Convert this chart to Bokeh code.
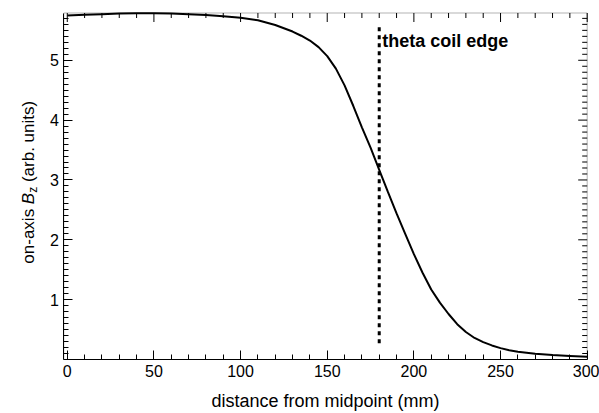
import math
from bokeh.plotting import figure
from bokeh.models import Range1d, FixedTicker, LinearAxis, Label, BoxAnnotation
from bokeh.core.properties import value
from bokeh.embed import file_html
from bokeh.resources import INLINE

# ---- data ----
distance_mm = [0, 10, 20, 30, 40, 50, 60, 70, 80, 90, 100, 110, 120, 130, 135,
               140, 145, 150, 155, 160, 165, 170, 175, 180, 185, 190, 195, 200,
               205, 210, 215, 220, 225, 230, 235, 240, 245, 250, 255, 260, 270,
               280, 290, 300]
bz = [5.75, 5.76, 5.77, 5.78, 5.785, 5.785, 5.78, 5.77, 5.755, 5.735, 5.71,
      5.67, 5.59, 5.48, 5.41, 5.33, 5.22, 5.07, 4.86, 4.58, 4.24, 3.88, 3.54,
      3.17, 2.80, 2.44, 2.10, 1.76, 1.45, 1.17, 0.95, 0.76, 0.59, 0.46, 0.36,
      0.29, 0.235, 0.19, 0.155, 0.13, 0.095, 0.075, 0.06, 0.045]
coil_edge_mm = 180.0
coil_edge_span = [0.27, 5.55]
coil_label = "theta coil edge"
x_title = "distance from midpoint (mm)"
x_major = [0, 50, 100, 150, 200, 250, 300]
y_major = [1, 2, 3, 4, 5]
x_lim = (-2, 300)
y_lim = (0, 5.79)

FONT = "Liberation Sans"

# ---- layout (pixels of the page) ----
W, H = 599, 413
BOX_L, BOX_R, BOX_T, BOX_B = 63.3, 586.7, 12.5, 359.0
sx = (BOX_R - BOX_L) / (x_lim[1] - x_lim[0])
sy = (BOX_B - BOX_T) / (y_lim[1] - y_lim[0])
xr = Range1d(x_lim[0] - BOX_L / sx, x_lim[1] + (W - BOX_R) / sx)
yr = Range1d(y_lim[0] - (H - BOX_B) / sy, y_lim[1] + BOX_T / sy)

p = figure(width=W, height=H, output_backend="svg", toolbar_location=None,
           x_range=xr, y_range=yr, x_axis_type=None, y_axis_type=None,
           min_border_left=0, min_border_right=0, min_border_top=0,
           min_border_bottom=0)
p.background_fill_color = "white"
p.border_fill_color = "white"
p.outline_line_color = None
p.xgrid.visible = False
p.ygrid.visible = False

x_minor = [v for v in range(0, 301, 10) if v % 50 != 0]
y_minor = [round(i * 0.1, 1) for i in range(1, 58) if i % 10 != 0]
xt = FixedTicker(ticks=x_major, minor_ticks=x_minor)
yt = FixedTicker(ticks=y_major, minor_ticks=y_minor)


def style(ax):
    ax.axis_line_color = "black"
    ax.axis_line_width = 1
    ax.major_tick_in = 9
    ax.major_tick_out = 0
    ax.minor_tick_in = 5
    ax.minor_tick_out = 0
    ax.major_tick_line_color = "black"
    ax.minor_tick_line_color = "black"
    ax.major_label_text_font = FONT
    ax.major_label_text_color = "black"
    ax.major_label_text_font_size = "16px"
    ax.major_label_standoff = 5


xaxis = LinearAxis(ticker=xt, fixed_location=y_lim[0], bounds=x_lim)
style(xaxis)
p.add_layout(xaxis, "below")
yaxis = LinearAxis(ticker=yt, fixed_location=x_lim[0], bounds=y_lim)
style(yaxis)
p.add_layout(yaxis, "left")

# plot box
p.add_layout(BoxAnnotation(left=x_lim[0], right=x_lim[1], bottom=y_lim[0],
                           top=y_lim[1], fill_color=None, fill_alpha=0,
                           line_color="black", line_width=1))

# mirrored ticks on the top and right edges
p.ray(x=x_major, y=[y_lim[1]] * len(x_major), length=9, length_units="screen",
      angle=-math.pi / 2, line_color="black", line_width=1)
p.ray(x=x_minor, y=[y_lim[1]] * len(x_minor), length=5, length_units="screen",
      angle=-math.pi / 2, line_color="black", line_width=1)
p.ray(x=[x_lim[1]] * len(y_major), y=y_major, length=9, length_units="screen",
      angle=math.pi, line_color="black", line_width=1)
p.ray(x=[x_lim[1]] * len(y_minor), y=y_minor, length=5, length_units="screen",
      angle=math.pi, line_color="black", line_width=1)

p.line(distance_mm, bz, line_width=2, line_color="black")
p.line([coil_edge_mm, coil_edge_mm], coil_edge_span, line_width=3,
       line_color="black", line_dash="4 4")
p.text(x=[coil_edge_mm + 1.8], y=[5.33], text=[coil_label],
       text_font=value(FONT), text_font_style="bold", text_font_size="18px",
       text_baseline="middle", text_align="left", text_color="black")

# x-axis title
p.add_layout(Label(x=(x_lim[0] + x_lim[1]) / 2, y=H - 400, x_units="data",
                   y_units="screen", text=x_title, text_font=FONT,
                   text_font_size="18px", text_align="center",
                   text_baseline="middle", text_color="black"))

# y-axis title in pieces: "on-axis B_z (arb. units)"
F = 17.0
SUB = 12.0
w_on = 3.501 * F
w_b = 0.667 * F
w_z = 0.5 * SUB
w_sp = 0.278 * F
w_rest = 4.779 * F
total = w_on + w_b + w_z + w_sp + w_rest
mid_px = (BOX_B - BOX_T) / 2 + 4
start_px = mid_px - total / 2
lx = 28
pieces = [("on-axis", start_px, 0, "normal", F),
          ("B", start_px + w_on, 0, "italic", F),
          ("z", start_px + w_on + w_b, 4, "normal", SUB),
          ("(arb. units)", start_px + w_on + w_b + w_z + w_sp, 0, "normal", F)]
for txt, ypx, dx, st, fs in pieces:
    p.add_layout(Label(x=lx + dx, y=y_lim[0] + ypx / sy,
                       x_units="screen", y_units="data",
                       text=txt, angle=math.pi / 2, text_font=FONT,
                       text_font_style=st, text_font_size=f"{fs}px",
                       text_align="left", text_baseline="middle",
                       text_color="black"))

open("out.html", "w").write(file_html(p, INLINE))
